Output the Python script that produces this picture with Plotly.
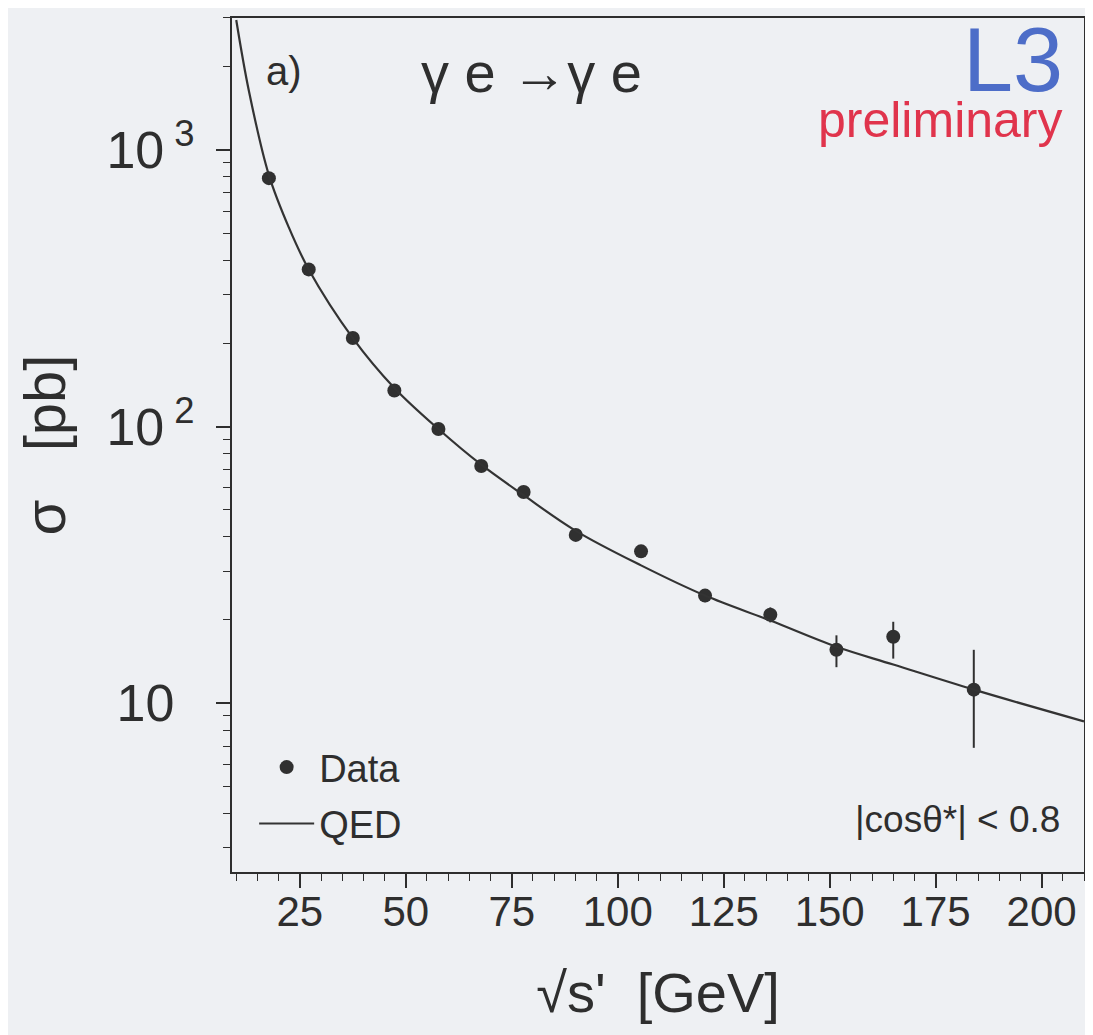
import plotly.graph_objects as go

# Data points
data_x = [17.7, 27.1, 37.5, 47.3, 57.7, 67.8, 77.8, 90.1, 105.5, 120.6, 136.0, 151.6, 165.0, 184.0]
data_y = [791, 370, 209, 135, 98, 72, 58, 40.6, 35.4, 24.5, 20.9, 15.6, 17.4, 11.2]
err_up = [15, 8, 5, 3, 2.5, 2, 2, 1.5, 1.5, 1.3, 1.3, 2.0, 2.3, 4.4]
err_dn = [15, 8, 5, 3, 2.5, 2, 2, 1.5, 1.5, 1.3, 1.3, 2.1, 2.9, 4.3]

# QED curve
qed_x = [10, 13, 17.7, 22.4, 27.1, 37.5, 47.3, 57.7, 67.8, 77.8, 90.1, 105.5, 120.6, 136.0, 151.6, 165.0, 184.0, 210.0]
qed_y = [2950, 1630, 811, 525, 370, 209, 138, 98, 72.8, 56.5, 42.0, 31.5, 24.5, 19.9, 16.0, 13.8, 11.2, 8.6]

x_ticks = [25, 50, 75, 100, 125, 150, 175, 200]
y_ticks = [10, 100, 1000]
y_ticktext = ["10<sup>\u00a0\u00a0</sup>", "10<sup> 2</sup>", "10<sup> 3</sup>"]

FONT = "Liberation Sans, Arial, Helvetica, sans-serif"
INK = "#2e2e2e"
BG = "#eef0f3"

fig = go.Figure()

fig.add_trace(go.Scatter(
    x=data_x, y=data_y, mode="markers", name="Data", legendgroup="g1",
    marker=dict(symbol="circle", size=14, color="#303030"),
    error_y=dict(type="data", array=err_up, arrayminus=err_dn, symmetric=False,
                 color="#303030", thickness=2, width=0),
))
fig.add_trace(go.Scatter(
    x=qed_x, y=qed_y, mode="lines", name="QED", legendgroup="g2",
    line=dict(color="#333333", width=2.2, shape="spline", smoothing=1.0),
))

minor_y = [m * 10 ** e for e in range(0, 4) for m in range(2, 10) if 2.4 < m * 10 ** e < 3100]

fig.update_layout(
    width=1085, height=1027,
    margin=dict(l=224, r=9, t=10, b=163),
    paper_bgcolor=BG, plot_bgcolor=BG,
    font=dict(family=FONT, color=INK, size=30),
    showlegend=True,
    legend=dict(
        x=0.026, y=0.02, xanchor="left", yanchor="bottom",
        bgcolor="rgba(0,0,0,0)", font=dict(size=38, color=INK),
        traceorder="grouped", tracegroupgap=4, itemwidth=55,
    ),
    xaxis=dict(
        automargin=False,
        range=[9, 210], tickmode="array", tickvals=x_ticks,
        ticks="outside", ticklen=14, tickwidth=1.5, tickcolor=INK,
        showline=True, linecolor=INK, linewidth=2, mirror=True,
        showgrid=False, zeroline=False,
        tickfont=dict(size=42, color=INK), ticklabelstandoff=-12,
        minor=dict(dtick=5, tick0=0, ticks="outside", ticklen=7, tickwidth=1.2, tickcolor=INK, showgrid=False),
        title=dict(text="\u00a0\u00a0√s'  [GeV]", font=dict(size=56, color=INK), standoff=38),
    ),
    yaxis=dict(
        automargin=False,
        type="log", range=[0.39, 3.477],
        tickmode="array", tickvals=y_ticks, ticktext=y_ticktext,
        ticks="outside", ticklen=14, tickwidth=1.5, tickcolor=INK,
        showline=True, linecolor=INK, linewidth=2, mirror=True,
        showgrid=False, zeroline=False,
        tickfont=dict(size=52, color=INK), ticklabelstandoff=11,
        minor=dict(tickmode="array", tickvals=minor_y, ticks="outside", ticklen=7, tickwidth=1.2, tickcolor=INK, showgrid=False),
        title=dict(text="σ   [pb]", font=dict(size=58, color=INK), standoff=22),
    ),
)

annotations = [
    dict(text="a)", x=0.037, y=0.938, xanchor="left", yanchor="middle", font=dict(size=40, color=INK)),
    dict(text="γ e →γ e", x=0.352, y=0.936, xanchor="center", yanchor="middle", font=dict(size=56, color=INK)),
    dict(text="L3", x=0.978, y=1.0115, xanchor="right", yanchor="top", font=dict(size=90, color="#4d6dc8")),
    dict(text="preliminary", x=0.978, y=0.881, xanchor="right", yanchor="middle", font=dict(size=50, color="#e0344c")),
    dict(text="|cosθ*| < 0.8", x=0.974, y=0.061, xanchor="right", yanchor="middle", font=dict(size=37, color=INK)),
]
for a in annotations:
    a.update(xref="paper", yref="paper", showarrow=False)
fig.update_layout(annotations=annotations)

fig.write_html("out.html")
